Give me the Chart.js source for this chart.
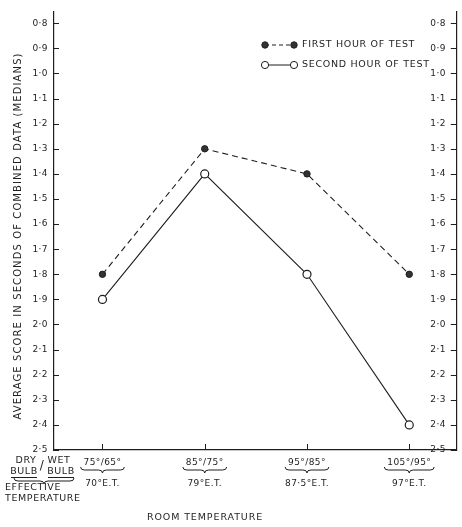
<!DOCTYPE html>
<html>
<head>
<meta charset="utf-8">
<script src="https://cdn.jsdelivr.net/npm/chart.js@4"></script>
<style>
html, body { margin: 0; padding: 0; background: #fff; }
</style>
</head>
<body>
<canvas id="chart" width="462" height="527"></canvas>
<script>
// room temperature categories (dry bulb / wet bulb and effective temperature)
const dryWet = ['75°/65°', '85°/75°', '95°/85°', '105°/95°'];
const effTemp = ['70°E.T.', '79°E.T.', '87·5°E.T.', '97°E.T.'];

// median scores, seconds
const firstHour = [1.8, 1.3, 1.4, 1.8];
const secondHour = [1.9, 1.4, 1.8, 2.4];

const seriesNames = ['FIRST HOUR OF TEST', 'SECOND HOUR OF TEST'];
const yTitle = 'AVERAGE SCORE IN SECONDS OF COMBINED DATA (MEDIANS)';
const xTitle = 'ROOM TEMPERATURE';

const ink = '#1e1e1e';
const fontName = '"DejaVu Sans", sans-serif';

function dot(v) {
    return v.toFixed(1).replace('.', '·');
}

function brace(ctx, x1, x2, y) {
    const mid = (x1 + x2) / 2;
    ctx.beginPath();
    ctx.moveTo(x1, y - 3);
    ctx.quadraticCurveTo(x1, y, x1 + 4, y);
    ctx.lineTo(mid - 4, y);
    ctx.quadraticCurveTo(mid, y, mid, y + 3);
    ctx.quadraticCurveTo(mid, y, mid + 4, y);
    ctx.lineTo(x2 - 4, y);
    ctx.quadraticCurveTo(x2, y, x2, y - 3);
    ctx.stroke();
}

// bits of the old printed figure that chart.js does not draw itself
const paperBits = {
    id: 'paperBits',
    beforeDraw(chart) {
        chart.ctx.letterSpacing = '0.4px';
    },
    afterDraw(chart) {
        const ctx = chart.ctx;
        const area = chart.chartArea;
        const xs = chart.scales.x;
        const yl = chart.scales.y;
        ctx.save();
        ctx.strokeStyle = ink;
        ctx.fillStyle = ink;
        ctx.lineWidth = 1;

        // inward tick marks
        yl.ticks.forEach(t => {
            const y = Math.round(yl.getPixelForValue(t.value)) + 0.5;
            ctx.beginPath();
            ctx.moveTo(area.left, y); ctx.lineTo(area.left + 5, y);
            ctx.moveTo(area.right - 6, y); ctx.lineTo(area.right, y);
            ctx.stroke();
        });
        xs.ticks.forEach(t => {
            const x = Math.round(xs.getPixelForValue(t.value)) + 0.5;
            ctx.beginPath();
            ctx.moveTo(x, area.bottom); ctx.lineTo(x, area.bottom - 6);
            ctx.stroke();
        });

        // braces under the dry/wet labels
        ctx.font = '9px ' + fontName;
        dryWet.forEach((lab, i) => {
            const x = xs.getPixelForValue(i);
            const w = ctx.measureText(lab).width / 2 + 3;
            brace(ctx, x - w, x + w, 470);
        });

        // y axis name, spaced out like the print
        ctx.save();
        ctx.translate(18, 236);
        ctx.rotate(-Math.PI / 2);
        ctx.font = '10px ' + fontName;
        ctx.letterSpacing = '1.1px';
        ctx.textAlign = 'center';
        ctx.textBaseline = 'middle';
        ctx.fillText(yTitle, 0, 0);
        ctx.restore();

        // left key block
        ctx.letterSpacing = '0.6px';
        ctx.font = '9.5px ' + fontName;
        ctx.textAlign = 'center';
        ctx.textBaseline = 'middle';
        ctx.fillText('DRY', 26, 461);
        ctx.fillText('WET', 59, 461);
        ctx.fillText('BULB', 24, 472);
        ctx.fillText('BULB', 61, 472);
        ctx.font = '12px ' + fontName;
        ctx.fillText('/', 42, 466);
        ctx.beginPath();
        ctx.moveTo(11, 477.5); ctx.lineTo(37, 477.5);
        ctx.moveTo(48, 477.5); ctx.lineTo(74, 477.5);
        ctx.stroke();
        brace(ctx, 14, 74, 481);
        ctx.font = '9.5px ' + fontName;
        ctx.textAlign = 'left';
        ctx.fillText('EFFECTIVE', 5, 488);
        ctx.fillText('TEMPERATURE', 5, 499);

        // axis name underneath
        ctx.textAlign = 'center';
        ctx.letterSpacing = '0.9px';
        ctx.fillText(xTitle, 205, 518);

        // legend
        const rows = [
            { y: 45, dash: [4, 3], fill: '#333', r: 3.2 },
            { y: 65, dash: [], fill: '#fff', r: 3.6 }
        ];
        ctx.font = '9.5px ' + fontName;
        ctx.letterSpacing = '0.7px';
        rows.forEach((row, i) => {
            ctx.setLineDash(row.dash);
            ctx.beginPath();
            ctx.moveTo(265, row.y); ctx.lineTo(294, row.y);
            ctx.stroke();
            ctx.setLineDash([]);
            [265, 294].forEach(cx => {
                ctx.beginPath();
                ctx.arc(cx, row.y, row.r, 0, Math.PI * 2);
                ctx.fillStyle = row.fill;
                ctx.fill();
                ctx.stroke();
            });
            ctx.fillStyle = ink;
            ctx.textAlign = 'left';
            ctx.fillText(seriesNames[i], 302, row.y);
        });
        ctx.restore();
    }
};

const yCommon = {
    type: 'linear',
    min: 0.755,
    max: 2.5,
    reverse: true,
    grid: { display: false, tickLength: 0 },
    border: { display: true, color: ink, width: 1.2 },
    afterBuildTicks: s => { s.ticks = s.ticks.filter(t => t.value > 0.79); },
    ticks: {
        stepSize: 0.1,
        autoSkip: false,
        color: ink,
        font: { family: fontName, size: 9 },
        callback: v => dot(v)
    }
};

new Chart(document.getElementById('chart'), {
    type: 'line',
    data: {
        datasets: [
            {
                label: seriesNames[0],
                data: firstHour.map((v, i) => ({ x: i, y: v })),
                borderColor: ink,
                borderWidth: 1.1,
                borderDash: [6, 4],
                pointRadius: 3.2,
                pointBackgroundColor: '#333',
                pointBorderColor: ink,
                pointBorderWidth: 1,
                yAxisID: 'y'
            },
            {
                label: seriesNames[1],
                data: secondHour.map((v, i) => ({ x: i, y: v })),
                borderColor: ink,
                borderWidth: 1.1,
                pointRadius: 4,
                pointBackgroundColor: '#fff',
                pointBorderColor: ink,
                pointBorderWidth: 1.2,
                yAxisID: 'y'
            }
        ]
    },
    options: {
        responsive: false,
        animation: false,
        layout: { padding: { top: 12, right: -4, left: 0, bottom: 0 } },
        plugins: {
            legend: { display: false },
            tooltip: { enabled: false }
        },
        scales: {
            x: {
                type: 'linear',
                min: -0.474,
                max: 3.465,
                grid: { display: false, tickLength: 0 },
                border: { display: true, color: ink, width: 1.2 },
                afterBuildTicks: s => { s.ticks = dryWet.map((d, i) => ({ value: i })); },
                afterFit: s => {
                    s.height = 77;
                    s.paddingLeft = 0;
                    s.paddingRight = 0;
                },
                ticks: {
                    autoSkip: false,
                    maxRotation: 0,
                    padding: 7,
                    color: ink,
                    font: { family: fontName, size: 9, lineHeight: 1.17 },
                    callback: (v, i) => [dryWet[i], '', effTemp[i]]
                }
            },
            y: Object.assign({}, yCommon, {
                position: 'left',
                afterFit: s => { s.width = 54; },
                ticks: Object.assign({}, yCommon.ticks, { padding: 6 })
            }),
            y2: Object.assign({}, yCommon, {
                position: 'right',
                afterFit: s => { s.width = 1; },
                ticks: Object.assign({}, yCommon.ticks, { mirror: true, padding: -11 })
            })
        }
    },
    plugins: [paperBits]
});
</script>
</body>
</html>
